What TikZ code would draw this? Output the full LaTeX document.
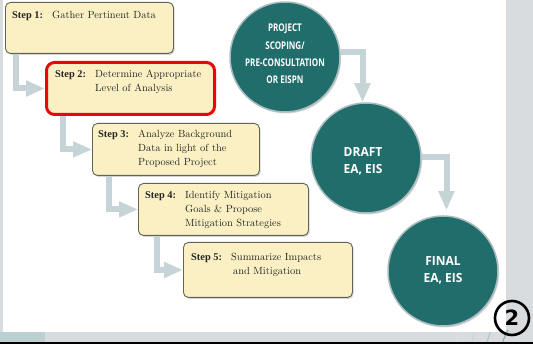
\documentclass[tikz,border=0pt]{standalone}
\usepackage{fontspec}
\usetikzlibrary{arrows.meta,shadows}
\newfontfamily\lblfont{Liberation Serif}
\newfontfamily\circfont[FakeStretch=0.76]{Open Sans}
\newfontfamily\circfontw[FakeStretch=0.95]{Open Sans}
\newfontfamily\numfont{DejaVu Sans}
\definecolor{boxfill}{HTML}{FAF0C3}
\definecolor{boxline}{HTML}{5F6657}
\definecolor{tealfill}{HTML}{206D6C}
\definecolor{connc}{HTML}{C6D4D8}
\definecolor{ringc}{HTML}{A9BDBF}
\definecolor{redline}{HTML}{E8080B}
\definecolor{bggray}{HTML}{D9DCDE}
\definecolor{bgteal}{HTML}{8FB0B4}
\newcommand{\stp}[2]{\begin{tabular}[t]{@{}p{40pt}@{}l@{}}{\lblfont\bfseries Step #1:} & #2\end{tabular}}
\begin{document}
\begin{tikzpicture}[x=1pt,y=-1pt,
  stepbox/.style={draw=boxline, line width=0.9pt, fill=boxfill, rounded corners=5pt,
    inner sep=0pt, anchor=north west,
    drop shadow={shadow xshift=1.2pt, shadow yshift=-1.5pt, opacity=0.35}},
  redbox/.style={draw=redline, line width=3pt, fill=boxfill, rounded corners=8pt,
    inner sep=0pt, anchor=north west},
  steptext/.style={anchor=base west, inner sep=0pt,
    font=\fontsize{10.4}{14}\selectfont, text=black!85},
  circ/.style={circle, minimum size=110pt, inner sep=0pt, fill=tealfill, draw=ringc,
    line width=1.5pt, drop shadow={shadow xshift=1.2pt, shadow yshift=-1.5pt, opacity=0.3}},
  circtext/.style={align=center, text=white, inner sep=0pt,
    font=\circfont\bfseries\fontsize{10.6}{17.3}\selectfont},
  circtextbig/.style={align=center, text=white, inner sep=0pt,
    font=\circfontw\bfseries\fontsize{12.6}{17}\selectfont},
  conn/.style={draw=connc, line width=6pt, -{Triangle[width=15pt,length=19pt]}}]
\useasboundingbox (0,0) rectangle (533,344);
% background frame
\fill[bggray] (0,0) rectangle (533,342);
\fill[bgteal!60] (0,332) rectangle (45,342);
\foreach \r/\c in {60/bgteal, 75/bgteal!70, 90/bgteal!50, 105/bgteal!35}{
  \draw[\c, line width=1.2pt] (533,-20) ++(180:\r) arc (180:270:\r);
  \draw[\c, line width=1.2pt] (560,360) ++(150:\r) arc (150:210:\r);
}
\fill[black] (0,342) rectangle (533,344);
\fill[white] (3,0) rectangle (506,332);
% step boxes
\node[stepbox, minimum width=168pt, minimum height=51pt] (s1) at (5,2) {};
\node[redbox, minimum width=168pt, minimum height=52pt] (s2) at (45,61) {};
\node[stepbox, minimum width=167pt, minimum height=52pt] (s3) at (92,123) {};
\node[stepbox, minimum width=170pt, minimum height=52pt] (s4) at (138,183) {};
\node[stepbox, minimum width=169pt, minimum height=55pt] (s5) at (183,242) {};
\node[steptext] (s1t) at (12,18.5) {\stp{1}{Gather Pertinent Data}};
\node[steptext] (s2t) at (55,77.5) {\stp{2}{Determine Appropriate\\ & Level of Analysis}};
\node[steptext] (s3t) at (98,138) {\stp{3}{Analyze Background\\ & Data in light of the\\ & Proposed Project}};
\node[steptext] (s4t) at (145,198.5) {\stp{4}{Identify Mitigation\\ & Goals \& Propose\\ & Mitigation Strategies}};
\node[steptext] (s5t) at (191,260.5) {\stp{5}{Summarize Impacts\\ & \hspace{2pt}and Mitigation}};
% step connectors
\draw[conn] ([xshift=10.5pt]s1.south west) |- (s2.west);
\draw[conn] ([xshift=18pt]s2.south west) |- (s3.west);
\draw[conn] ([xshift=16.5pt]s3.south west) |- (s4.west);
\draw[conn] ([xshift=19pt]s4.south west) |- (s5.west);
% circles
\node[circ] (c1) at (285,57) {};
\node[circ] (c2) at (366,158) {};
\node[circ] (c3) at (443,271) {};
\node[circtext] (c1t) at (285,54) {PROJECT\\SCOPING/\\PRE-CONSULTATION\\OR EISPN};
\node[circtextbig] (c2t) at (363,161.5) {DRAFT\\EA, EIS};
\node[circtextbig] (c3t) at (443,270.5) {FINAL\\EA, EIS};
\draw[conn] ([yshift=4.5pt]c1.east) -| ([xshift=-3.5pt]c2.north);
\draw[conn, shorten >=5pt] ([yshift=0.5pt]c2.east) -| ([xshift=3.5pt]c3.north);
% page number mark
\node[circle, draw=black, line width=2.6pt, minimum size=34pt, inner sep=0pt,
  font=\numfont\bfseries\fontsize{21}{21}\selectfont] (pn) at (512,318) {2};
\end{tikzpicture}
\end{document}
